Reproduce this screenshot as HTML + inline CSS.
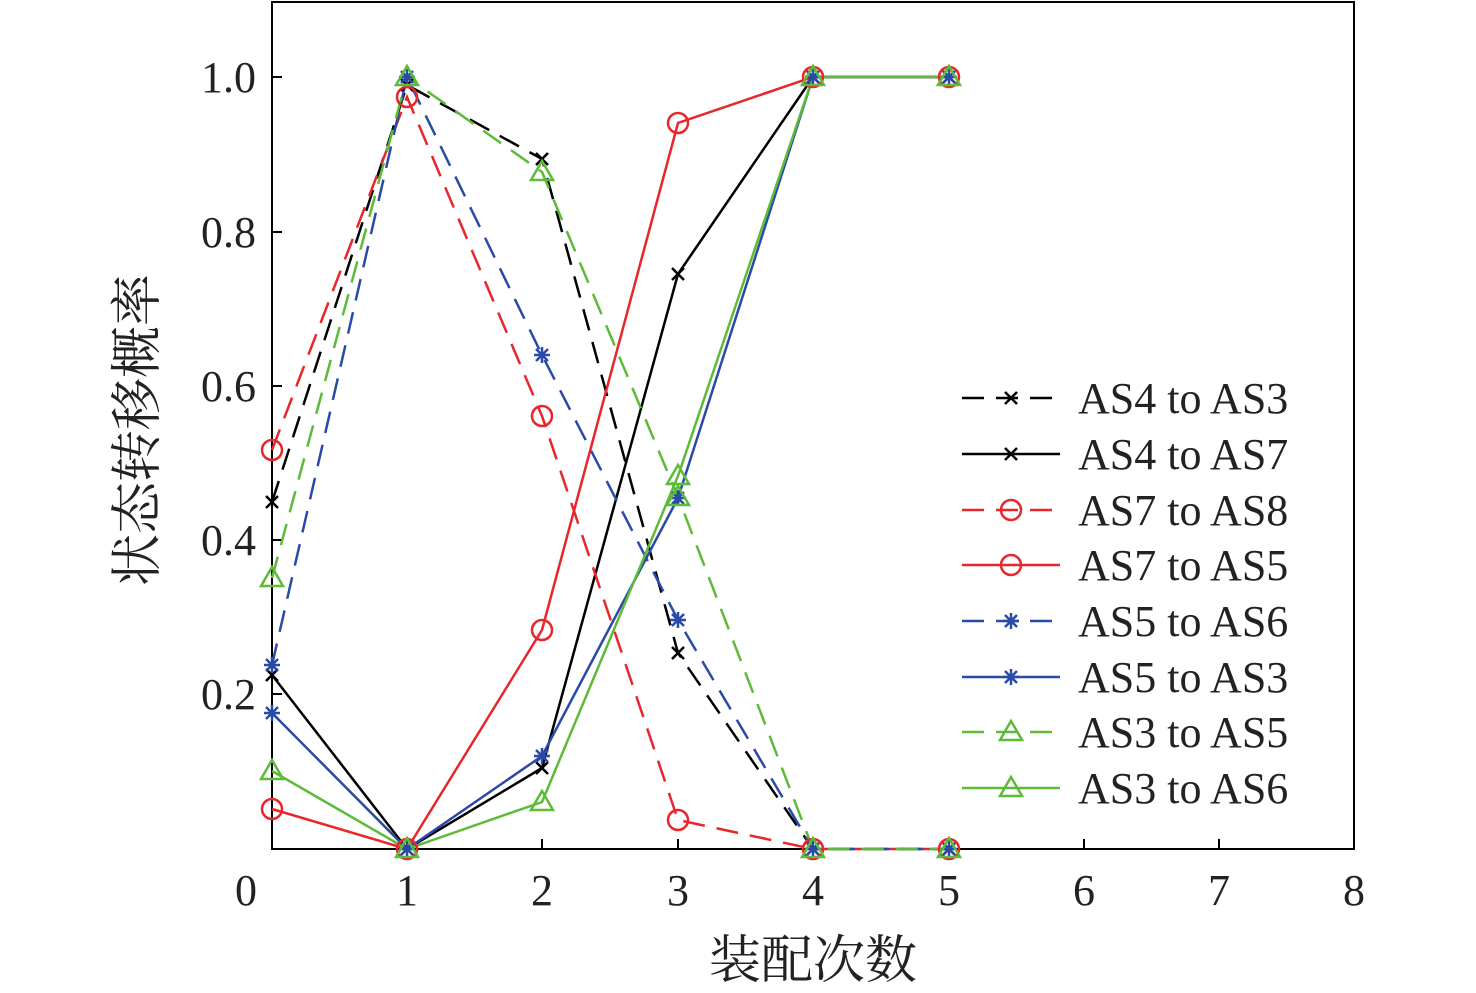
<!DOCTYPE html>
<html><head><meta charset="utf-8"><style>
html,body{margin:0;padding:0;background:#fff;}
svg{display:block;}
text{font-family:"Liberation Serif","Noto Serif CJK SC",serif;}
</style></head><body>
<svg width="1476" height="993" viewBox="0 0 1476 993" xmlns="http://www.w3.org/2000/svg">
<defs>
<g id="mx"><path d="M-6,-6L6,6M-6,6L6,-6" stroke-width="2.5"/></g>
<g id="mo"><circle r="10" fill="none" stroke-width="2.5"/></g>
<g id="ms"><path d="M-8,0H8M0,-8V8M-6,-6L6,6M-6,6L6,-6" stroke-width="2.5"/></g>
<g id="mt"><path d="M0,-11L11,8H-11Z" fill="none" stroke-width="2.5"/></g>
</defs>
<rect x="272" y="2" width="1082" height="847" fill="none" stroke="#000" stroke-width="2"/>
<g stroke="#000" stroke-width="2">
<line x1="407" y1="849" x2="407" y2="839"/><line x1="542" y1="849" x2="542" y2="839"/>
<line x1="678" y1="849" x2="678" y2="839"/><line x1="813" y1="849" x2="813" y2="839"/>
<line x1="949" y1="849" x2="949" y2="839"/><line x1="1084" y1="849" x2="1084" y2="839"/>
<line x1="1219" y1="849" x2="1219" y2="839"/>
<line x1="272" y1="77" x2="282" y2="77"/><line x1="272" y1="232" x2="282" y2="232"/>
<line x1="272" y1="386" x2="282" y2="386"/><line x1="272" y1="540" x2="282" y2="540"/>
<line x1="272" y1="694" x2="282" y2="694"/>
</g>
<g font-size="44" fill="#222" text-anchor="middle">
<text x="246" y="905">0</text><text x="407" y="905">1</text><text x="542" y="905">2</text>
<text x="678" y="905">3</text><text x="813" y="905">4</text><text x="949" y="905">5</text>
<text x="1084" y="905">6</text><text x="1219" y="905">7</text><text x="1354" y="905">8</text>
</g>
<g font-size="44" fill="#222" text-anchor="end">
<text x="256" y="92">1.0</text><text x="256" y="247">0.8</text><text x="256" y="401">0.6</text>
<text x="256" y="555">0.4</text><text x="256" y="709">0.2</text>
</g>
<text x="813" y="978" font-size="52" fill="#222" text-anchor="middle">装配次数</text>
<text transform="translate(155,430) rotate(-90)" font-size="52" fill="#222" text-anchor="middle">状态转移概率</text>

<g fill="none" stroke-width="2.5">
<polyline stroke="#000" stroke-dasharray="22,12" points="272,502 407,85 542,159 678,653 813,849 949,849"/>
<polyline stroke="#000" points="272,675 407,849 542,768 678,274 813,77 949,77"/>
<polyline stroke="#e8262b" stroke-dasharray="22,12" points="272,450 407,97 542,416 678,820 813,849 949,849"/>
<polyline stroke="#e8262b" points="272,809 407,849 542,630 678,123 813,77 949,77"/>
<polyline stroke="#2a4aa8" stroke-dasharray="22,12" points="272,665 407,77 542,355 678,620 813,849 949,849"/>
<polyline stroke="#2a4aa8" points="272,713 407,849 542,756 678,498 813,77 949,77"/>
<polyline stroke="#5dbb3a" stroke-dasharray="22,12" points="272,578 407,77 542,172 678,497 813,849 949,849"/>
<polyline stroke="#5dbb3a" points="272,771 407,849 542,802 678,476 813,77 949,77"/>
</g>
<g stroke="#000"><use href="#mx" x="272" y="502"/><use href="#mx" x="407" y="85"/><use href="#mx" x="542" y="159"/><use href="#mx" x="678" y="653"/><use href="#mx" x="813" y="849"/><use href="#mx" x="949" y="849"/>
<use href="#mx" x="272" y="675"/><use href="#mx" x="407" y="849"/><use href="#mx" x="542" y="768"/><use href="#mx" x="678" y="274"/><use href="#mx" x="813" y="77"/><use href="#mx" x="949" y="77"/></g>
<g stroke="#e8262b"><use href="#mo" x="272" y="450"/><use href="#mo" x="407" y="97"/><use href="#mo" x="542" y="416"/><use href="#mo" x="678" y="820"/><use href="#mo" x="813" y="849"/><use href="#mo" x="949" y="849"/>
<use href="#mo" x="272" y="809"/><use href="#mo" x="407" y="849"/><use href="#mo" x="542" y="630"/><use href="#mo" x="678" y="123"/><use href="#mo" x="813" y="77"/><use href="#mo" x="949" y="77"/></g>
<g stroke="#2a4aa8"><use href="#ms" x="272" y="665"/><use href="#ms" x="407" y="77"/><use href="#ms" x="542" y="355"/><use href="#ms" x="678" y="620"/><use href="#ms" x="813" y="849"/><use href="#ms" x="949" y="849"/>
<use href="#ms" x="272" y="713"/><use href="#ms" x="407" y="849"/><use href="#ms" x="542" y="756"/><use href="#ms" x="678" y="498"/><use href="#ms" x="813" y="77"/><use href="#ms" x="949" y="77"/></g>
<g stroke="#5dbb3a"><use href="#mt" x="272" y="578"/><use href="#mt" x="407" y="77"/><use href="#mt" x="542" y="172"/><use href="#mt" x="678" y="497"/><use href="#mt" x="813" y="849"/><use href="#mt" x="949" y="849"/>
<use href="#mt" x="272" y="771"/><use href="#mt" x="407" y="849"/><use href="#mt" x="542" y="802"/><use href="#mt" x="678" y="476"/><use href="#mt" x="813" y="77"/><use href="#mt" x="949" y="77"/></g>

<g fill="none" stroke-width="2.5">
<line x1="962" y1="398" x2="1060" y2="398" stroke="#000" stroke-dasharray="22,12"/>
<line x1="962" y1="454" x2="1060" y2="454" stroke="#000"/>
<line x1="962" y1="510" x2="1060" y2="510" stroke="#e8262b" stroke-dasharray="22,12"/>
<line x1="962" y1="565" x2="1060" y2="565" stroke="#e8262b"/>
<line x1="962" y1="621" x2="1060" y2="621" stroke="#2a4aa8" stroke-dasharray="22,12"/>
<line x1="962" y1="677" x2="1060" y2="677" stroke="#2a4aa8"/>
<line x1="962" y1="732" x2="1060" y2="732" stroke="#5dbb3a" stroke-dasharray="22,12"/>
<line x1="962" y1="788" x2="1060" y2="788" stroke="#5dbb3a"/>
</g>
<g stroke="#000"><use href="#mx" x="1011" y="398"/><use href="#mx" x="1011" y="454"/></g>
<g stroke="#e8262b"><use href="#mo" x="1011" y="510"/><use href="#mo" x="1011" y="565"/></g>
<g stroke="#2a4aa8"><use href="#ms" x="1011" y="621"/><use href="#ms" x="1011" y="677"/></g>
<g stroke="#5dbb3a"><use href="#mt" x="1011" y="732"/><use href="#mt" x="1011" y="788"/></g>
<g font-size="44" fill="#222">
<text x="1078" y="413">AS4 to AS3</text><text x="1078" y="469">AS4 to AS7</text>
<text x="1078" y="525">AS7 to AS8</text><text x="1078" y="580">AS7 to AS5</text>
<text x="1078" y="636">AS5 to AS6</text><text x="1078" y="692">AS5 to AS3</text>
<text x="1078" y="747">AS3 to AS5</text><text x="1078" y="803">AS3 to AS6</text>
</g>
</svg>
</body></html>
